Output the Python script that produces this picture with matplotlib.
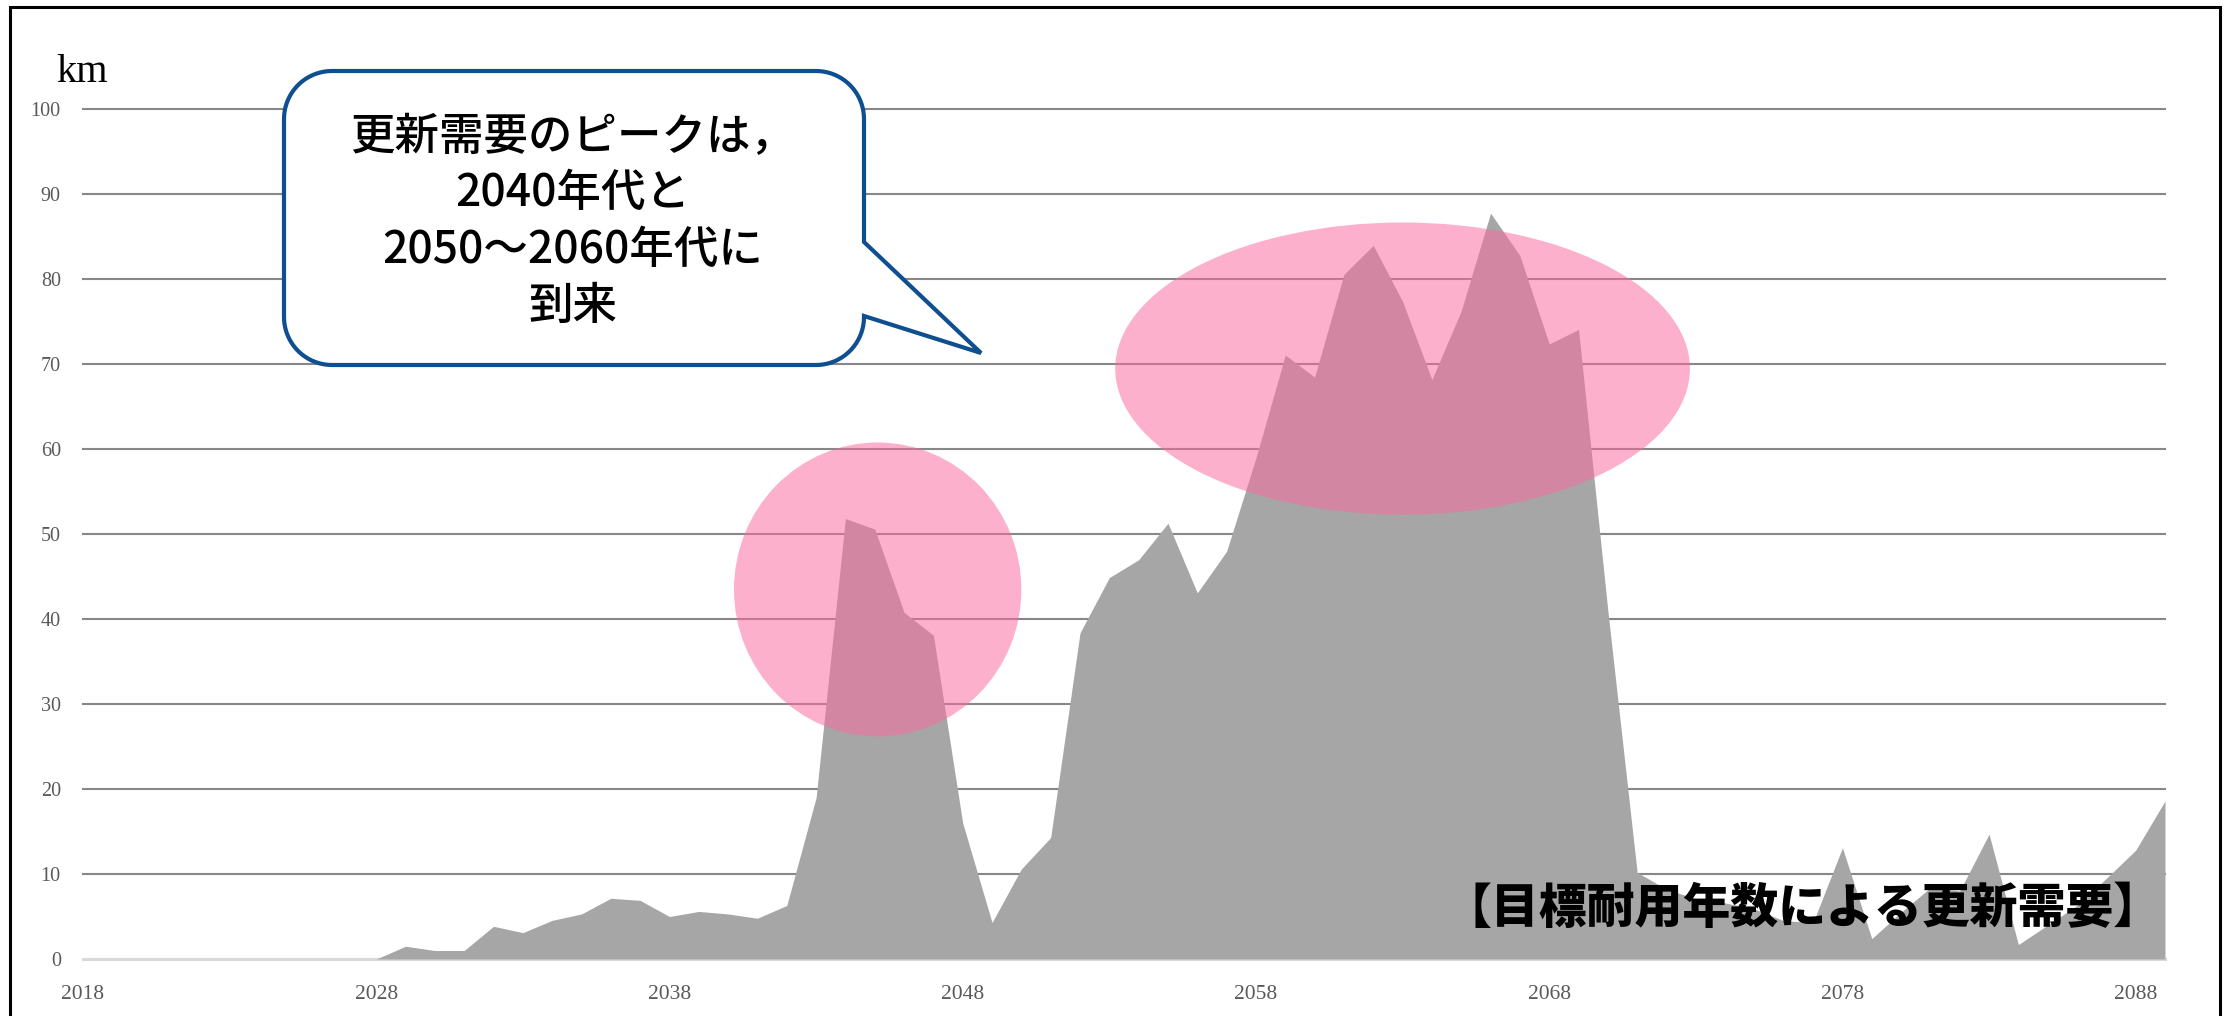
import numpy as np
import matplotlib
matplotlib.use("Agg")
import matplotlib.pyplot as plt
from matplotlib.patches import Ellipse, PathPatch
from matplotlib.path import Path

# ---- data: renewal demand by year (km) ----
years = list(range(2018, 2090))
demand_km = [
    0, 0, 0, 0, 0, 0, 0, 0, 0, 0,          # 2018-2027
    0, 1.5, 1.0, 1.0, 3.85, 3.1, 4.55, 5.3, 7.15, 6.9,   # 2028-2037
    5.0, 5.6, 5.3, 4.8, 6.3, 19.0, 51.85, 50.6, 40.8, 38.1,  # 2038-2047
    16.0, 4.3, 10.6, 14.3, 38.4, 44.9, 47.0, 51.3, 43.1, 48.0,  # 2048-2057
    59.0, 71.1, 68.5, 80.6, 84.0, 77.4, 68.2, 76.3, 87.8, 82.8,  # 2058-2067
    72.4, 74.1, 41.0, 10.2, 8.2, 7.1, 6.6, 5.9, 4.5, 4.3,   # 2068-2077
    13.1, 2.4, 5.5, 8.4, 8.0, 14.7, 1.7, 4.0, 6.3, 9.5,     # 2078-2087
    12.8, 18.6,                                            # 2088-2089
]
x_tick_years = list(range(2018, 2089, 10))
y_ticks = list(range(0, 101, 10))

# peak highlight regions: (centre year, centre km, half-width in years, half-height in km)
peak_2040s = (2045.1, 43.5, 4.9, 17.3)
peak_2050s_60s = (2063.0, 69.5, 9.8, 17.2)

callout_text = "更新需要のピークは，\n2040年代と\n2050～2060年代に\n到来"
footer_text = "【目標耐用年数による更新需要】"

# ---- figure ----
W, H = 2229, 1016
fig = plt.figure(figsize=(W / 100, H / 100), dpi=100)
fig.patch.set_facecolor("white")

left_px, right_px, top_px, bottom_px = 83, 2165, 109.5, 959
ax = fig.add_axes([left_px / W, (H - bottom_px) / H,
                   (right_px - left_px) / W, (bottom_px - top_px) / H])
ax.set_xlim(years[0], years[-1])
ax.set_ylim(0, 100)
for s in ax.spines.values():
    s.set_visible(False)
ax.patch.set_alpha(0)

# horizontal gridlines
for v in y_ticks:
    if v == 0:
        ax.axhline(v, color="#D9D9D9", lw=2.2, zorder=1, clip_on=False)
    else:
        ax.axhline(v, color="#878787", lw=1.5, zorder=1, clip_on=False)

ax.fill_between(years, demand_km, 0, color="#A6A6A6", lw=0, zorder=2)

for xc, yc, rx, ry in (peak_2040s, peak_2050s_60s):
    ax.add_patch(Ellipse((xc, yc), 2 * rx, 2 * ry, facecolor="#FA6A9D",
                         alpha=0.53, lw=0, zorder=3))

serif = ["Liberation Serif", "DejaVu Serif"]
ax.set_yticks(y_ticks)
ax.set_yticklabels([str(v) for v in y_ticks], fontsize=14.5, color="#595959",
                   family=serif)
ax.set_xticks(x_tick_years)
ax.set_xticklabels([str(v) for v in x_tick_years], fontsize=15.5, color="#595959",
                   family=serif)
ax.tick_params(axis="y", length=0, pad=16)
ax.tick_params(axis="x", length=0, pad=19)

# ---- overlay in pixel coordinates for callout, captions and frame ----
ov = fig.add_axes([0, 0, 1, 1], zorder=5)
ov.set_xlim(0, W)
ov.set_ylim(H, 0)
ov.axis("off")
ov.patch.set_alpha(0)

# outer frame (left, top, right)
ov.plot([10, 10, 2220, 2220], [H + 5, 7, 7, H + 5], color="black", lw=2.2,
        solid_joinstyle="miter")

ov.text(82, 72, "km", fontsize=29, family=serif, color="black",
        ha="center", va="center")

# speech bubble: rounded rectangle with a pointer on the right side
L, R, T, B, r = 284, 864, 71, 365, 48
tail_top, tail_bot, tip = 242, 316, (981, 353)


def arc(cx, cy, a0, a1, n=20):
    t = np.radians(np.linspace(a0, a1, n))
    return list(zip(cx + r * np.cos(t), cy + r * np.sin(t)))


verts = [(L + r, T), (R - r, T)]
verts += arc(R - r, T + r, -90, 0)
verts += [(R, tail_top), tip, (R, tail_bot), (R, B - r)]
verts += arc(R - r, B - r, 0, 90)
verts += [(L + r, B)]
verts += arc(L + r, B - r, 90, 180)
verts += [(L, T + r)]
verts += arc(L + r, T + r, 180, 270)
verts += [(L + r, T)]
bubble = PathPatch(Path(verts, closed=True), facecolor="white",
                   edgecolor="#0F4F8F", lw=3.0, joinstyle="miter")
ov.add_patch(bubble)

cjk = ["Noto Sans CJK JP", "DejaVu Sans"]
ov.text(573, 222, callout_text, fontsize=32, family=cjk, fontweight="medium",
        color="black", ha="center", va="center", linespacing=1.33,
        multialignment="center")

ov.text(1803, 909, footer_text, fontsize=34.5, family=cjk, fontweight="heavy",
        color="black", ha="center", va="center")

fig.savefig("out.png", dpi=100, facecolor="white")
